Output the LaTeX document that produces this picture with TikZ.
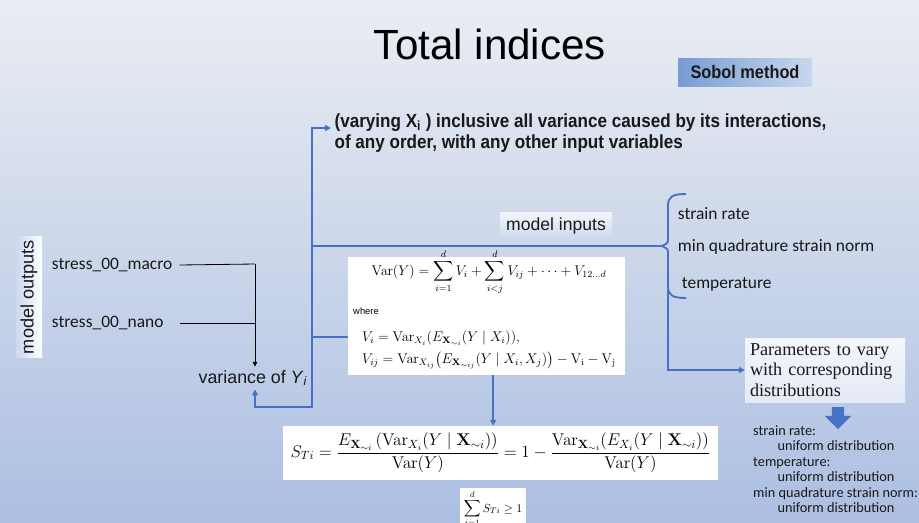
\RequirePackage{fix-cm}
\documentclass[tikz,border=0pt]{standalone}
\usepackage{amsmath}
\usepackage[no-math]{fontspec}
\setmainfont{Liberation Sans}
\newfontfamily\calfont{Carlito}
\newfontfamily\timesfont{Liberation Serif}
\newfontfamily\narrowfont[FakeStretch=0.9]{Liberation Sans}
\usetikzlibrary{arrows.meta, positioning, shapes.arrows, calc}

\definecolor{linkblue}{RGB}{70,114,198}
\definecolor{bgtop}{RGB}{234,237,243}
\definecolor{bgbot}{RGB}{172,191,226}
\definecolor{inkgray}{RGB}{25,25,25}
\definecolor{sobolL}{RGB}{118,156,212}
\definecolor{sobolR}{RGB}{200,215,237}
\definecolor{boxtop}{RGB}{244,246,251}
\definecolor{boxbot}{RGB}{204,216,238}

\begin{document}
\begin{tikzpicture}[
    x=0.03cm, y=-0.03cm,
    titletext/.style={font=\fontsize{36}{40}\selectfont, text=black},
    sobolbox/.style={rectangle, left color=sobolL, right color=sobolR, minimum width=4.02cm, minimum height=0.84cm, font=\narrowfont\bfseries\fontsize{15.5}{17}\selectfont, text=inkgray},
    notetext/.style={align=left, inner sep=0.1cm, font=\narrowfont\bfseries\fontsize{16.2}{18.5}\selectfont, text=inkgray},
    inbox/.style={rectangle, top color=boxtop, bottom color=boxbot, minimum width=3.36cm, minimum height=0.84cm, font=\fontsize{15}{17}\selectfont, text=inkgray},
    listtext/.style={font=\calfont\fontsize{14.9}{17}\selectfont, text=inkgray, inner sep=0.05cm},
    vartext/.style={font=\fontsize{15.2}{17}\selectfont, text=inkgray, inner sep=0.1cm},
    eqbox/.style={rectangle, fill=white, inner sep=0pt},
    eqtext/.style={font=\fontsize{12}{14}\selectfont, inner sep=0pt},
    parbox/.style={rectangle, top color=boxtop, bottom color=boxtop!60!boxbot, minimum width=4.8cm, minimum height=1.92cm, text width=4.5cm, align=left, font=\timesfont\fontsize{15.5}{17.5}\selectfont, text=inkgray},
    blueline/.style={draw=linkblue, line width=1.6pt},
    bluearr/.style={blueline, -{Triangle[length=5pt,width=5pt]}},
    blackarr/.style={draw=black, line width=0.7pt, -{Triangle[length=4pt,width=4pt]}}
  ]
    % background
    \shade[top color=bgtop, bottom color=bgbot] (0,0) rectangle (919,522);
    \useasboundingbox (0,0) rectangle (919,522);

    \node[titletext] (title) at (490,44) {Total indices};
    \node[sobolbox] (sobol) at (745,72) {Sobol method};
    \node[notetext, anchor=west] (note) at (331,133) {(varying X\textsubscript{i} ) inclusive all variance caused by its interactions,\\of any order, with any other input variables};

    % outputs side
    \node[rectangle, left color=boxbot, right color=white, minimum width=3.57cm, minimum height=0.78cm, rotate=90, font=\fontsize{15.5}{17}\selectfont, text=inkgray] (mout) at (29,297) {model outputs};
    \node[listtext, anchor=west] (smacro) at (50,265) {stress\_00\_macro};
    \node[listtext, anchor=west] (snano) at (50,323) {stress\_00\_nano};
    \node[vartext] (var) at (253,378) {variance of \textit{Y}\textsubscript{\textit{i}}};

    % inputs side
    \node[inbox] (minput) at (556,226) {model inputs};
    \node[listtext, anchor=west] (p1) at (676,214) {strain rate};
    \node[listtext, anchor=west] (p2) at (676,247) {min quadrature strain norm};
    \node[listtext, anchor=west] (p3) at (680,284) {temperature};
    \node[parbox] (params) at (825,370) {Parameters to vary\\with corresponding\\distributions};
    \node[single arrow, fill=linkblue, draw=none, rotate=-90, inner sep=0.18cm, single arrow head extend=0.21cm, minimum height=0.66cm] (darrow) at (838,415) {};
    \node[anchor=north west, align=left, inner sep=0pt, font=\calfont\fontsize{12.2}{13.3}\selectfont, text=inkgray] (dists) at (753,425) {strain rate:\\\hspace*{1.7em}uniform distribution\\temperature:\\\hspace*{1.7em}uniform distribution\\min quadrature strain norm:\\\hspace*{1.7em}uniform distribution};

    % formulas
    \node[eqbox, minimum width=8.31cm, minimum height=3.54cm] (fbox1) at (486.5,316) {};
    \node[eqtext] (eqvar) at (489,272) {$\displaystyle \mathrm{Var}(Y)=\sum_{i=1}^{d}V_i+\sum_{i<j}^{d}V_{ij}+\cdots+V_{12\ldots d}$};
    \node[anchor=west, inner sep=0pt, font=\fontsize{8}{10}\selectfont] (where) at (353,311) {where};
    \node[eqtext, anchor=west] (eqvi) at (362,338) {$V_i=\mathrm{Var}_{X_i}(E_{\mathbf{X}_{\sim i}}(Y\mid X_i)),$};
    \node[eqtext, anchor=west] (eqvij) at (362,360) {$V_{ij}=\mathrm{Var}_{X_{ij}}\bigl(E_{\mathbf{X}_{\sim ij}}(Y\mid X_i,X_j)\bigr)-\mathrm{V_i}-\mathrm{V_j}$};
    \node[eqbox, minimum width=13.05cm, minimum height=1.62cm, font=\fontsize{14.5}{16}\selectfont] (sti) at (500.5,453) {$\displaystyle S_{Ti}=\frac{E_{\mathbf{X}_{\sim i}}\left(\mathrm{Var}_{X_i}(Y\mid \mathbf{X}_{\sim i})\right)}{\mathrm{Var}(Y)}=1-\frac{\mathrm{Var}_{\mathbf{X}_{\sim i}}(E_{X_i}(Y\mid\mathbf{X}_{\sim i}))}{\mathrm{Var}(Y)}$};
    \node[eqbox, anchor=north, minimum width=1.98cm, inner sep=2pt, font=\fontsize{10}{12}\selectfont] (sumst) at (493,488) {$\displaystyle\sum_{i=1}^{d}S_{Ti}\geq 1$};

    % junctions
    \coordinate (jin) at (312,246);
    \coordinate (jbot) at (312,407);
    \coordinate (jeq) at (312,337);
    \coordinate (jm) at (255,264);
    \coordinate (brtip) at (662,246);
    \coordinate (brlow) at (668,290);

    % black connectors
    \draw[draw=black, line width=0.7pt] ([xshift=0.15cm]smacro.east) -- (jm);
    \draw[draw=black, line width=0.7pt] ([xshift=0.45cm]snano.east) -- (snano.east -| jm);
    \draw[blackarr] (jm) -- (jm |- var.north);

    % blue connectors
    \draw[bluearr] (jin) |- ([yshift=0.15cm]note.west);
    \draw[blueline] (jin) -- (brtip);
    \draw[bluearr] (jin) -- (jbot) -| (jm |- var.south);
    \draw[blueline] (jeq) -- (jeq -| fbox1.west);
    \draw[bluearr] ([xshift=0.2cm]fbox1.south) -- ([xshift=0.2cm]fbox1.south |- sti.north);
    \draw[blueline] (686,194) .. controls (672,194) and (668,197) .. (668,206) -- (668,238) .. controls (668,243) .. (brtip) .. controls (668,249) .. (668,254) -- (668,286) .. controls (668,295) and (672,298) .. (686,298);
    \draw[bluearr] (brlow) |- (params.west);
\end{tikzpicture}
\end{document}
